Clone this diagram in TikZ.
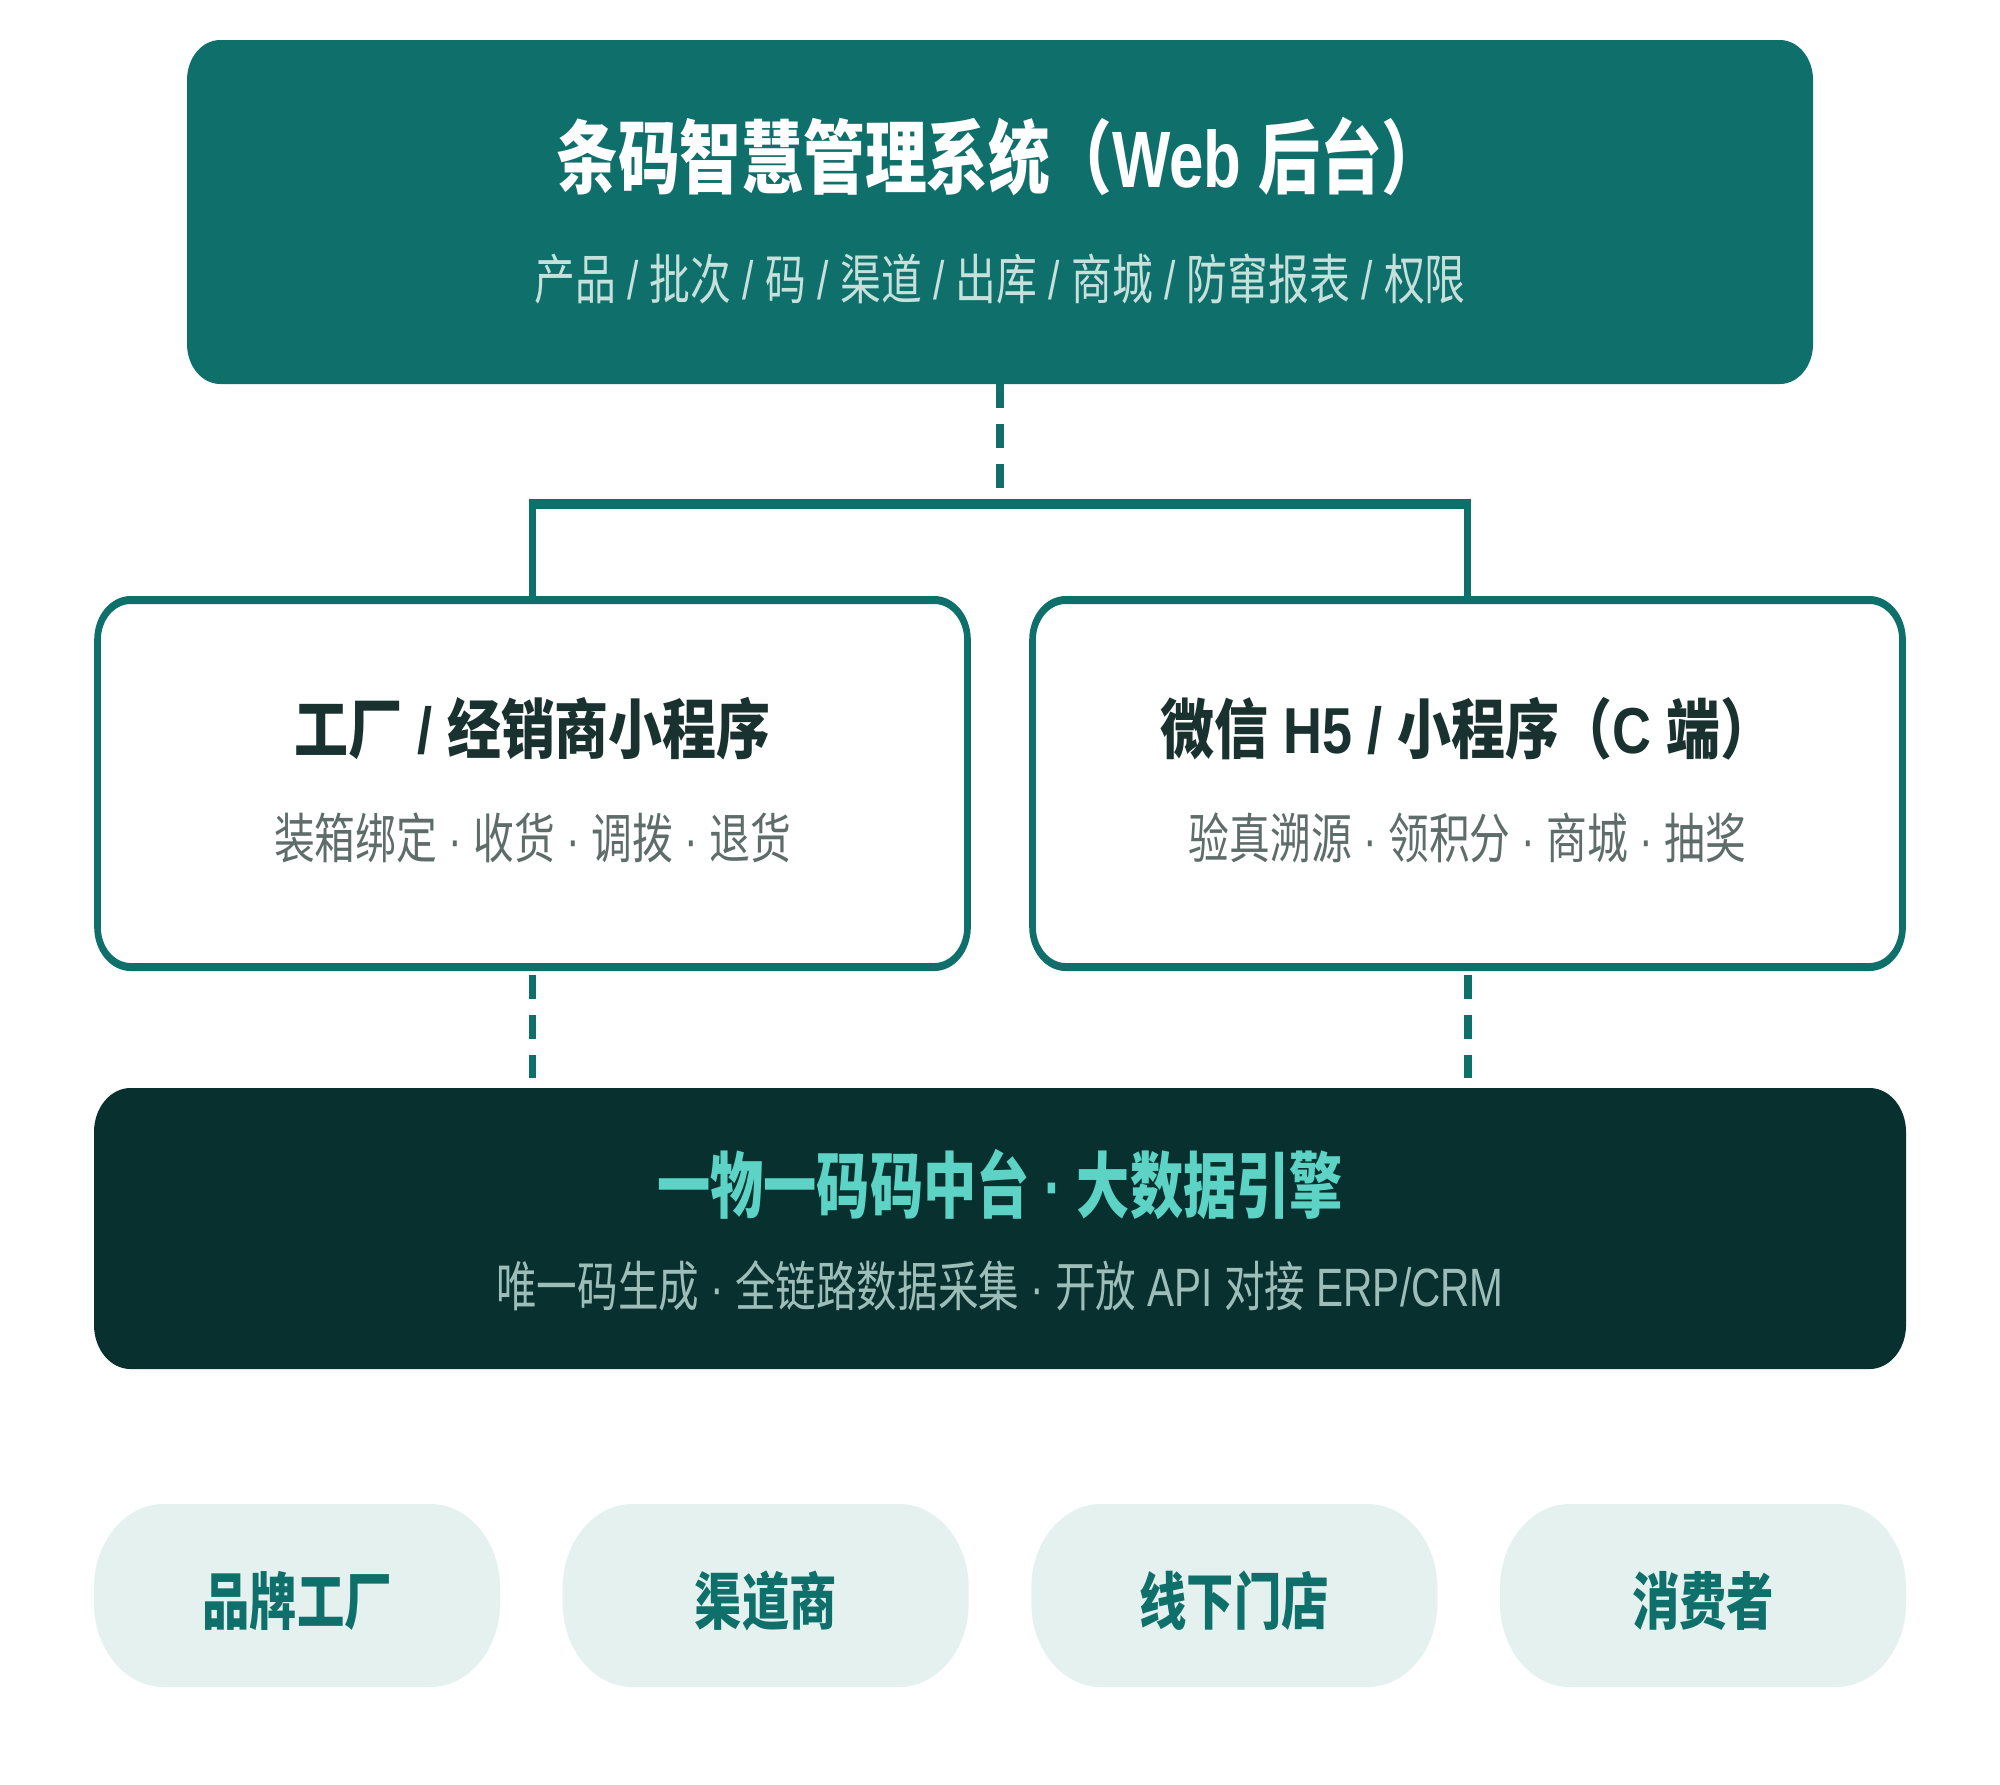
\documentclass[tikz,border=0pt]{standalone}
\usepackage{graphicx}
\usepackage{fontspec}
\setmainfont{Liberation Sans}
\newfontfamily\cjkfont{Noto Sans CJK SC}
\newcommand{\zh}[1]{{\cjkfont #1}}
\newcommand{\sqz}[2]{\scalebox{#1}[1]{#2}}
\definecolor{teal1}{HTML}{0F706B}
\definecolor{dark1}{HTML}{07302F}
\definecolor{turq}{HTML}{5DD3C5}
\definecolor{topsub}{HTML}{C6E0DC}
\definecolor{dsub}{HTML}{9DBDB8}
\definecolor{midttl}{HTML}{1A322F}
\definecolor{midsub}{HTML}{5E6D6A}
\definecolor{pillfill}{HTML}{E4F1EE}
\tikzset{
  topbox/.style={rectangle, fill=teal1, rounded corners=20pt, inner sep=0pt},
  midbox/.style={rectangle, draw=teal1, line width=4pt, fill=white, rounded corners=20pt, inner sep=0pt},
  darkbox/.style={rectangle, fill=dark1, rounded corners=22pt, inner sep=0pt},
  pill/.style={rectangle, fill=pillfill, rounded corners=42pt, inner sep=0pt,
    minimum width={406*0.60241pt}, minimum height=91.5pt},
  txt/.style={anchor=base, inner sep=0pt},
  dashconn/.style={draw=teal1, line width=4.8pt, dash pattern=on 12pt off 8pt},
  conn/.style={draw=teal1, line width=4.6pt},
  ttlfont/.style={font=\fontsize{40pt}{48pt}\selectfont\bfseries},
  subfont/.style={font=\fontsize{27pt}{32pt}\selectfont},
  midfont/.style={font=\fontsize{32.5pt}{38pt}\selectfont\bfseries},
  darkfont/.style={font=\fontsize{36pt}{42pt}\selectfont\bfseries},
  pillfont/.style={font=\fontsize{31pt}{36pt}\selectfont\bfseries},
}
\begin{document}
\begin{tikzpicture}[x=0.5pt,y=-0.5pt]
\useasboundingbox[fill=white] (0,0) rectangle (2000,1784);
\begin{scope}[x=0.60241pt, y=-0.5pt, transform canvas={xscale=0.83}]
  % boxes
  \node[topbox, minimum width={1626*0.60241pt}, minimum height=172pt] (top) at (1000,212) {};
  \node[midbox, minimum width={870*0.60241pt}, minimum height=183.5pt] (left) at (532.5,783.5) {};
  \node[midbox, minimum width={870*0.60241pt}, minimum height=183.5pt] (right) at (1467.5,783.5) {};
  \node[darkbox, minimum width={1812*0.60241pt}, minimum height=140.5pt] (dark) at (1000,1228.5) {};
  \node[pill] (p1) at (297,1595.5) {};
  \node[pill] (p2) at (765.7,1595.5) {};
  \node[pill] (p3) at (1234.3,1595.5) {};
  \node[pill] (p4) at (1703,1595.5) {};
  % texts
  \node[txt, ttlfont, text=white] (topttl) at (1000,187) {\sqz{0.93}{\zh{条码智慧管理系统（}Web \zh{后台）}}};
  \node[txt, subfont, text=topsub] (topsubt) at (1000,299) {\sqz{0.91}{\zh{产品} / \zh{批次} / \zh{码} / \zh{渠道} / \zh{出库} / \zh{商城} / \zh{防窜报表} / \zh{权限}}};
  \node[txt, midfont, text=midttl] (lttl) at (532.5,753) {\zh{工厂} / \zh{经销商小程序}};
  \node[txt, subfont, text=midsub] (lsub) at (532.5,858) {\sqz{0.91}{\zh{装箱绑定} · \zh{收货} · \zh{调拨} · \zh{退货}}};
  \node[txt, midfont, text=midttl] (rttl) at (1467.5,753) {\zh{微信} H5 / \zh{小程序（}C \zh{端）}};
  \node[txt, subfont, text=midsub] (rsub) at (1467.5,858) {\sqz{0.91}{\zh{验真溯源} · \zh{领积分} · \zh{商城} · \zh{抽奖}}};
  \node[txt, darkfont, text=turq] (dttl) at (1000,1212) {\sqz{0.89}{\zh{一物一码码中台} · \zh{大数据引擎}}};
  \node[txt, subfont, text=dsub] (dsubt) at (1000,1306) {\sqz{0.905}{\zh{唯一码生成} · \zh{全链路数据采集} · \zh{开放} API \zh{对接} ERP/CRM}};
  \node[txt, pillfont, text=teal1] (t1) at (297,1624) {\sqz{0.92}{\zh{品牌工厂}}};
  \node[txt, pillfont, text=teal1] (t2) at (765.7,1624) {\sqz{0.92}{\zh{渠道商}}};
  \node[txt, pillfont, text=teal1] (t3) at (1234.3,1624) {\sqz{0.92}{\zh{线下门店}}};
  \node[txt, pillfont, text=teal1] (t4) at (1703,1624) {\sqz{0.92}{\zh{消费者}}};
  % connectors
  \coordinate (jt) at (1000,488);
  \coordinate (hy) at (1000,504);
  \coordinate (ld) at (532.5,1078);
  \coordinate (rd) at (1467.5,1078);
  \draw[dashconn] (top.south) -- (jt);
  \draw[conn] (left.north) -- (left.north |- hy) -- (right.north |- hy) -- (right.north);
  \draw[dashconn] ([yshift=-2pt]left.south) -- (ld);
  \draw[dashconn] ([yshift=-2pt]right.south) -- (rd);
\end{scope}
\end{tikzpicture}
\end{document}
